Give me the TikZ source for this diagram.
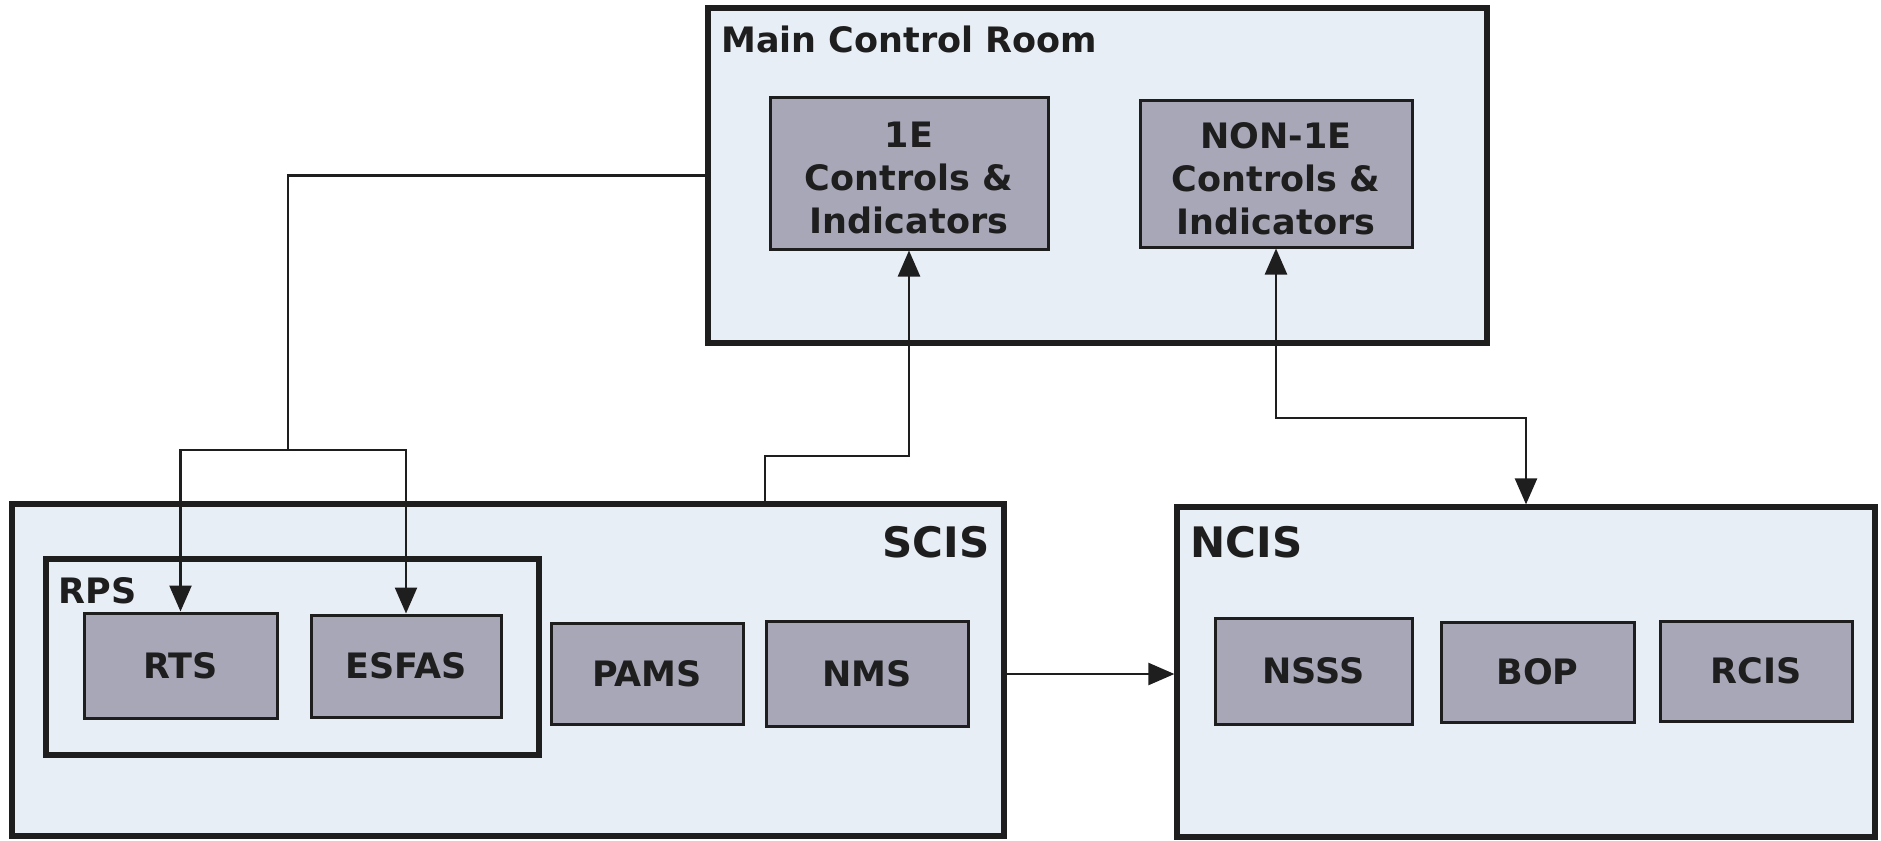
\documentclass[tikz,border=0pt]{standalone}
\usepackage{fontspec}
\setmainfont{DejaVu Sans}
\usetikzlibrary{arrows.meta,fit,calc}
\definecolor{outerfill}{HTML}{E8EEF5}
\definecolor{innerfill}{HTML}{A8A7B8}
\definecolor{ink}{HTML}{1E1E1E}
\newcommand{\topstrut}{\rule{0pt}{18pt}}
\tikzset{
  outerbox/.style={draw=ink, line width=2.6pt, fill=outerfill, inner sep=0pt},
  innerbox/.style={draw=ink, line width=1.5pt, fill=innerfill, inner sep=0pt, text=ink,
    font=\bfseries\fontsize{17.5}{21.5}\selectfont, align=center},
  titlelbl/.style={inner sep=0pt, text=ink, font=\bfseries\fontsize{17.5}{21}\selectfont},
  biglbl/.style={inner sep=0pt, text=ink, font=\bfseries\fontsize{21}{25}\selectfont},
  conn/.style={line width=1.2pt, draw=ink},
  arr/.style={conn, -{Triangle[length=13pt,width=11pt]}},
  darr/.style={conn, {Triangle[length=13pt,width=11pt]}-{Triangle[length=13pt,width=11pt]}}
}
\begin{document}
\begin{tikzpicture}[x=0.5pt, y=-0.5pt]
\useasboundingbox (0,0) rectangle (1881,841);
% outer boxes
\node[outerbox, fit={(708,8) (1487,343)}] (mcr) {};
\node[outerbox, fit={(12,504) (1004,836)}] (scis) {};
\node[outerbox, fit={(1177,507) (1875,837)}] (ncis) {};
\node[outerbox, fit={(46,559) (539,755)}] (rps) {};
% labels
\node[titlelbl, anchor=base west] (mcrlbl) at (721,52) {Main Control Room};
\node[biglbl, anchor=base east] (scislbl) at (990,557) {SCIS};
\node[biglbl, anchor=base west] (ncislbl) at (1190,557) {NCIS};
\node[titlelbl, anchor=base west] (rpslbl) at (58,603) {RPS};
% inner boxes
\node[innerbox, minimum width=139pt, minimum height=76pt] (e1) at (909,173) {\topstrut 1E\\Controls \&\\Indicators};
\node[innerbox, minimum width=136pt, minimum height=73.5pt] (ne1) at (1276,173.5) {\topstrut NON-1E\\Controls \&\\Indicators};
\node[innerbox, minimum width=96.5pt, minimum height=52.5pt] (rts) at (180.5,665.5) {RTS};
\node[innerbox, minimum width=95pt, minimum height=51pt] (esfas) at (406,666) {ESFAS};
\node[innerbox, minimum width=96pt, minimum height=50.5pt] (pams) at (647,673.5) {PAMS};
\node[innerbox, minimum width=101pt, minimum height=52.5pt] (nms) at (867,673.5) {NMS};
\node[innerbox, minimum width=98.5pt, minimum height=53pt] (nsss) at (1313.5,671) {NSSS};
\node[innerbox, minimum width=96.5pt, minimum height=50pt] (bop) at (1537.5,672) {BOP};
\node[innerbox, minimum width=96pt, minimum height=50pt] (rcis) at (1756,671) {RCIS};
% junctions
\coordinate (j1) at (288,450);
\coordinate (j2) at (765,456);
\coordinate (j3) at (1526,418);
% connectors
\draw[conn] (mcr.west) -| (j1);
\draw[arr] (j1) -| (rts.north);
\draw[arr] (j1) -| (esfas.north);
\draw[arr] (scis.north -| j2) -- (j2) -| (e1.south);
\draw[darr] (ne1.south) |- (j3) -- (ncis.north);
\draw[arr] ($(scis.east)+(0,4)$) -- ($(scis.east -| ncis.west)+(0,4)$);
\end{tikzpicture}
\end{document}
